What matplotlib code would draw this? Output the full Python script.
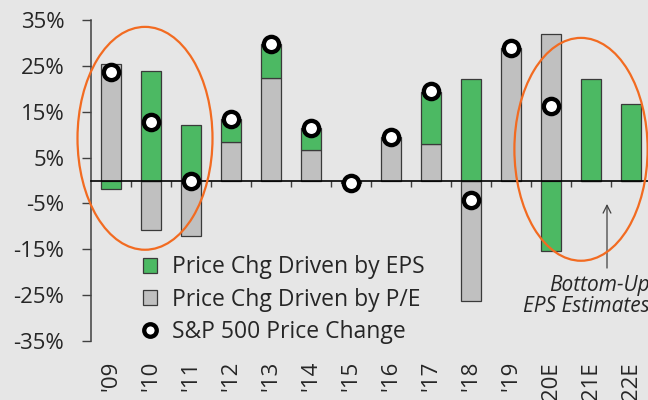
import numpy as np
import matplotlib.pyplot as plt
from matplotlib.patches import Ellipse, Patch
from matplotlib.lines import Line2D
import matplotlib.transforms as mtransforms

plt.rcParams['font.family'] = ['Open Sans', 'DejaVu Sans']

# S&P 500 yearly price change split into earnings and multiple (P/E) parts
years = ["'09", "'10", "'11", "'12", "'13", "'14", "'15", "'16", "'17", "'18",
         "'19", "'20E", "'21E", "'22E"]
eps_part = [-1.9, 23.8, 12.2, 4.9, 7.4, 4.8, -0.6, 0.6, 11.5, 22.1, 0.2, -15.4, 22.2, 16.7]
pe_part = [25.4, -10.8, -12.0, 8.5, 22.3, 6.7, 0.0, 8.9, 7.9, -26.3, 28.8, 31.9, 0.0, 0.0]
price_chg = [23.6, 12.8, 0.0, 13.4, 29.7, 11.5, -0.6, 9.5, 19.5, -4.3, 29.0, 16.2, None, None]

bg = '#e6e6e6'
green = '#4cb963'
grey = '#c0c0c0'
edge = '#3a3a3a'
orange = '#f26b21'
txt = '#262626'

x = np.arange(len(years))
eps = np.array(eps_part)
pe = np.array(pe_part)
# positives stack upward, negatives downward, P/E drawn first
eps_bottom = np.where(eps >= 0, np.maximum(pe, 0), np.minimum(pe, 0))

fig = plt.figure(figsize=(6.48, 4.0), dpi=100, facecolor=bg)
ax = fig.add_axes([91 / 648, 59 / 400, 557 / 648, 321 / 400])
ax.set_facecolor(bg)

ax.bar(x, pe, width=0.5, color=grey, edgecolor=edge, linewidth=0.9, zorder=2)
ax.bar(x, eps, width=0.5, bottom=eps_bottom, color=green, edgecolor=edge, linewidth=0.9, zorder=2)

# price change dots
px = [xi for xi, p in zip(x, price_chg) if p is not None]
py = [p for p in price_chg if p is not None]
ax.plot(px, py, 'o', ms=11, mfc='white', mec='black', mew=3.1, linestyle='none', zorder=5)

ax.set_xlim(-0.5, 13.425)
ax.set_ylim(-35, 35)
ax.set_yticks(np.arange(-35, 36, 10))
ax.set_yticklabels([f'{v}%' for v in range(-35, 36, 10)])
ax.tick_params(axis='y', direction='out', length=6.3, width=1, color='#404040',
               pad=13, labelsize=16, labelcolor=txt)

# zero line with small ticks between the years
ax.spines['bottom'].set_position(('data', 0))
ax.spines['bottom'].set_color('black')
ax.spines['bottom'].set_linewidth(1.2)
ax.spines['bottom'].set_zorder(3)
ax.set_xticks(x)
ax.set_xticklabels([])
ax.tick_params(axis='x', which='major', length=0)
ax.set_xticks(np.arange(0.5, 13.5, 1), minor=True)
ax.tick_params(axis='x', which='minor', direction='out', length=4.5, width=1, color='#404040')
ax.spines['left'].set_color('#404040')
ax.spines['left'].set_linewidth(1.1)
ax.spines['top'].set_visible(False)
ax.spines['right'].set_visible(False)

# year labels under the plot area
trans = mtransforms.blended_transform_factory(ax.transData, ax.transAxes)
for xi, lab in zip(x, years):
    ax.text(xi, -0.062, lab, transform=trans, rotation=90, ha='center', va='top',
            fontsize=16, color=txt, clip_on=False)

# highlight circles
ax.add_patch(Ellipse((0.85, 9.2), 3.375, 48.6, fill=False, edgecolor=orange, lw=1.6,
                     zorder=6, clip_on=False))
ax.add_patch(Ellipse((11.75, 6.8), 3.33, 48.6, fill=False, edgecolor=orange, lw=1.6,
                     zorder=6, clip_on=False))

ax.annotate('', xy=(12.4, -4.5), xytext=(12.4, -19.7),
            arrowprops=dict(arrowstyle='->', color='#404040', lw=0.9, mutation_scale=14))
fig.text(650 / 648, 1 - 275 / 400, 'Bottom-Up\nEPS Estimates', ha='right', va='top',
         fontsize=15, style='italic', color=txt, linespacing=1.0)

handles = [Patch(facecolor=green, edgecolor=edge, linewidth=0.9),
           Patch(facecolor=grey, edgecolor=edge, linewidth=0.9),
           Line2D([], [], marker='o', ms=9, mfc='white', mec='black', mew=3.1, linestyle='none')]
labels = ['Price Chg Driven by EPS', 'Price Chg Driven by P/E', 'S&P 500 Price Change']
leg = fig.legend(handles, labels, loc='upper left', bbox_to_anchor=(131.5 / 648, 1 - 244 / 400),
                 frameon=False, fontsize=16.5, labelspacing=0.36, handlelength=0.62,
                 handleheight=0.62, handletextpad=0.65, borderpad=0)
for t in leg.get_texts():
    t.set_color(txt)

plt.savefig('out.png', dpi=100, facecolor=bg)
